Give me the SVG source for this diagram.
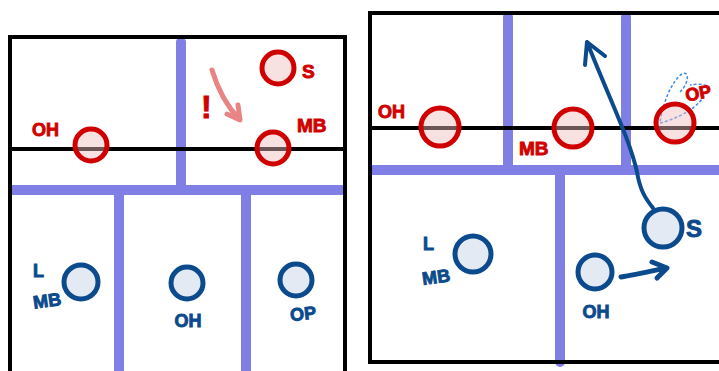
<svg xmlns="http://www.w3.org/2000/svg" width="719" height="371" viewBox="0 0 719 371">
<style>
.court{stroke:#000;stroke-width:4;fill:none}
.zone{stroke:#7f7fe6;stroke-width:10;stroke-linecap:round;fill:none}
.band{stroke:#7f7fe6;stroke-width:10;stroke-linecap:butt;fill:none}
.red{fill:#f0bcbc;fill-opacity:0.45;stroke:#d10000;stroke-width:5}
.blue{fill:#e4eaf3;stroke:#0b4a8c;stroke-width:5}
.tr{font-family:"Liberation Sans",Arial,sans-serif;font-weight:bold;font-size:18px;fill:#d10000;stroke:#d10000;stroke-width:0.9}
.tb{font-family:"Liberation Sans",Arial,sans-serif;font-weight:bold;font-size:18px;fill:#0b4a8c;stroke:#0b4a8c;stroke-width:0.9}
</style>
<rect width="719" height="371" fill="#fff"/>
<g id="left-court">
<path class="zone" d="M181,42 V190 M119,195 V380 M246,195 V380"/>
<path class="band" d="M10,190 H345"/>
<path class="court" d="M10,380 V37 H345 V380 M10,149 H345"/>
</g>
<g id="right-court">
<path class="zone" d="M508,17 V168 M626,17 V168 M560,175 V362"/>
<path class="band" d="M370,170 H725"/>
<path class="court" d="M725,13 H370 V362 H725 M370,128 H725"/>
</g>
<g id="connectors">
<path d="M212,70 C218,90 226,105 239,119 M227,114 L240,120 L238,105" fill="none" stroke="#e88484" stroke-width="5" stroke-linecap="round" stroke-linejoin="round"/>
<path d="M653,208 C645,198 640,190 637,172 C630,140 610,100 587,42 M585,65 L587,42 L605,56" fill="none" stroke="#0b4a8c" stroke-width="4" stroke-linecap="round" stroke-linejoin="round"/>
<path d="M621,277 C635,275 652,271 666,268 M652,262 L667,268 L657,278" fill="none" stroke="#0b4a8c" stroke-width="5" stroke-linecap="round" stroke-linejoin="round"/>
<path d="M680,92 C690,82 689,70 682,74 C672,80 662,105 660,123 C680,118 705,105 708,86 C702,84 696,84 690,85" fill="none" stroke="#3d8ee8" stroke-width="1.5" stroke-dasharray="3,2"/>
</g>
<g id="l-oh-red"><circle class="red" cx="91" cy="145" r="16"/><text class="tr" x="32" y="136">OH</text></g>
<g id="l-s-red"><circle class="red" cx="278" cy="68" r="16"/><text class="tr" x="302" y="78" style="font-size:19px">S</text></g>
<g id="l-mb-red"><circle class="red" cx="273" cy="148" r="16"/><text class="tr" x="297" y="132" style="font-size:19px">MB</text></g>
<g id="l-bang"><text class="tr" x="201" y="118" style="font-size:32px">!</text></g>
<g id="l-lmb-blue"><circle class="blue" cx="81" cy="282" r="17"/><text class="tb" x="33" y="277">L</text><text class="tb" x="33" y="307" transform="rotate(-8 46 300)">MB</text></g>
<g id="l-oh-blue"><circle class="blue" cx="187" cy="283" r="16"/><text class="tb" x="188" y="327" text-anchor="middle">OH</text></g>
<g id="l-op-blue"><circle class="blue" cx="296" cy="280" r="16"/><text class="tb" x="303" y="320" text-anchor="middle" transform="rotate(-6 303 313)">OP</text></g>
<g id="r-oh-red"><circle class="red" cx="440" cy="127" r="19"/><text class="tr" x="378" y="118">OH</text></g>
<g id="r-mb-red"><circle class="red" cx="573" cy="128" r="19"/><text class="tr" x="519" y="155" style="font-size:19px">MB</text></g>
<g id="r-op-red"><circle class="red" cx="675" cy="123" r="19"/><text class="tr" x="685" y="99" transform="rotate(-10 700 92)">OP</text></g>
<g id="r-lmb-blue"><circle class="blue" cx="473" cy="254" r="18"/><text class="tb" x="423" y="250">L</text><text class="tb" x="422" y="283" transform="rotate(-8 437 276)">MB</text></g>
<g id="r-s-blue"><circle class="blue" cx="663" cy="228" r="19"/><text class="tb" x="686" y="237" style="font-size:24px">S</text></g>
<g id="r-oh-blue"><circle class="blue" cx="595" cy="272" r="17"/><text class="tb" x="596" y="318" text-anchor="middle">OH</text></g>
</svg>
